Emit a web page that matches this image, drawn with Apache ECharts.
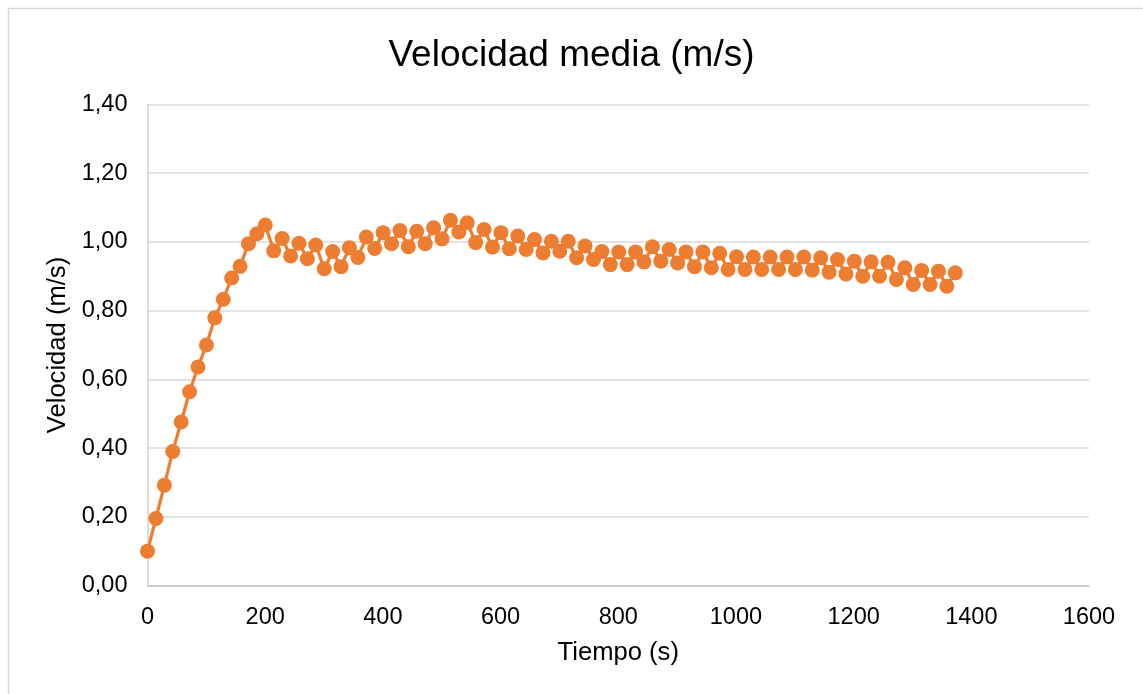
<!DOCTYPE html>
<html>
<head>
<meta charset="utf-8">
<script src="https://cdn.jsdelivr.net/npm/echarts@6/dist/echarts.min.js"></script>
<style>
html,body{margin:0;padding:0;background:#fff;}
#chart{width:1143px;height:694px;}
</style>
</head>
<body>
<div id="chart"></div>
<script>
var chartTitle = 'Velocidad media (m/s)';
var xAxisName = 'Tiempo (s)';
var yAxisName = 'Velocidad (m/s)';
var tiempo = [0,14.3,28.6,42.9,57.2,71.5,85.8,100.1,114.4,128.7,143,157.3,171.6,185.9,200.2,214.5,228.8,243.1,257.4,271.7,286,300.3,314.6,328.9,343.2,357.5,371.8,386.1,400.4,414.7,429,443.3,457.6,471.9,486.2,500.5,514.8,529.1,543.4,557.7,572,586.3,600.6,614.9,629.2,643.5,657.8,672.1,686.4,700.7,715,729.3,743.6,757.9,772.2,786.5,800.8,815.1,829.4,843.7,858,872.3,886.6,900.9,915.2,929.5,943.8,958.1,972.4,986.7,1001,1015.3,1029.6,1043.9,1058.2,1072.5,1086.8,1101.1,1115.4,1129.7,1144,1158.3,1172.6,1186.9,1201.2,1215.5,1229.8,1244.1,1258.4,1272.7,1287,1301.3,1315.6,1329.9,1344.2,1358.5,1372.8];
var velocidad = [0.100,0.195,0.292,0.390,0.476,0.564,0.636,0.700,0.779,0.833,0.895,0.929,0.995,1.024,1.049,0.974,1.010,0.959,0.996,0.951,0.991,0.922,0.972,0.928,0.983,0.955,1.014,0.981,1.027,0.995,1.033,0.986,1.031,0.995,1.041,1.009,1.063,1.029,1.056,0.998,1.036,0.985,1.027,0.980,1.017,0.978,1.007,0.968,1.002,0.973,1.002,0.954,0.988,0.949,0.972,0.934,0.971,0.934,0.971,0.942,0.986,0.944,0.978,0.939,0.971,0.928,0.971,0.925,0.967,0.920,0.957,0.920,0.956,0.920,0.956,0.920,0.956,0.920,0.956,0.918,0.954,0.912,0.949,0.907,0.944,0.900,0.942,0.900,0.941,0.891,0.925,0.876,0.917,0.876,0.915,0.871,0.910];
var xTicks = [0,200,400,600,800,1000,1200,1400,1600];
var yTicks = [0,0.2,0.4,0.6,0.8,1.0,1.2,1.4];

var points = tiempo.map(function(t,i){return [t, velocidad[i]];});
var FONT = '"Liberation Sans", Arial, sans-serif';
var chart = echarts.init(document.getElementById('chart'));
chart.setOption({
  backgroundColor:'#fff',
  animation:false,
  title:{
    text: chartTitle, left:'center', top:32,
    textStyle:{fontFamily:FONT, fontSize:37, fontWeight:'normal', color:'#000'}
  },
  graphic:[{
    type:'rect', shape:{x:8.5,y:8.5,width:1150,height:700},
    style:{fill:'none', stroke:'#d9d9d9', lineWidth:1.5}, silent:true, z:-1
  }],
  grid:{left:147.5, right:54, top:104.5, bottom:108.5},
  xAxis:{
    type:'value', min:xTicks[0], max:xTicks[xTicks.length-1], interval:200,
    name:xAxisName, nameLocation:'middle', nameGap:54,
    nameTextStyle:{fontFamily:FONT, fontSize:25.6, color:'#000'},
    axisLine:{show:true, lineStyle:{color:'#c4c4c4', width:1.5}},
    axisTick:{show:false},
    splitLine:{show:false},
    axisLabel:{fontFamily:FONT, fontSize:23.5, color:'#000', margin:20,
      formatter:function(v){return String(v);}}
  },
  yAxis:{
    type:'value', min:yTicks[0], max:yTicks[yTicks.length-1], interval:0.2,
    name:yAxisName, nameLocation:'middle', nameGap:74,
    nameTextStyle:{fontFamily:FONT, fontSize:25.6, color:'#000'},
    axisLine:{show:true, lineStyle:{color:'#d0d0d0', width:1.5}},
    axisTick:{show:false},
    splitLine:{show:true, lineStyle:{color:'#d9d9d9', width:1.5}},
    axisLabel:{fontFamily:FONT, fontSize:23.5, color:'#000', margin:20,
      formatter:function(v){return v.toFixed(2).replace('.', ',');}}
  },
  series:[{
    type:'line', data:points,
    symbol:'circle', symbolSize:15, showAllSymbol:true,
    lineStyle:{color:'#ED7D31', width:3.2},
    itemStyle:{color:'#ED7D31', borderWidth:0}
  }]
});
</script>
</body>
</html>
